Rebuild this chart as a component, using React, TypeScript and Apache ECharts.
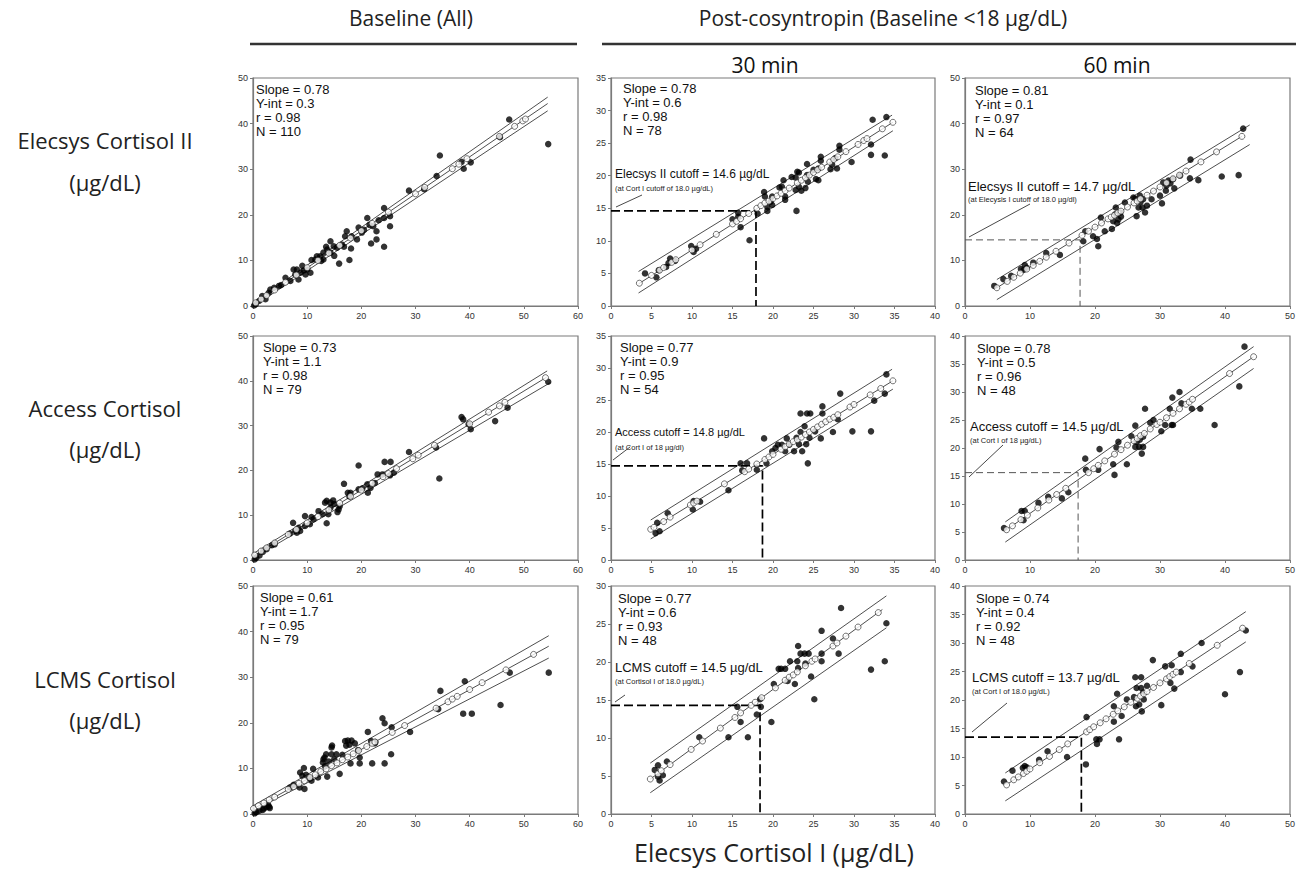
import React, { useEffect, useRef } from "react";
import * as echarts from "echarts";

// ---------- DATA ----------
const colTitles = ["Baseline (All)", "Post-cosyntropin (Baseline <18 µg/dL)"];
const subTitles = ["30 min", "60 min"];
const rowTitles = ["Elecsys Cortisol II", "Access Cortisol", "LCMS Cortisol"];
const rowUnit = "(µg/dL)";
const xTitle = "Elecsys Cortisol I (µg/dL)";

const xMax = [60, 40, 50, 60, 40, 50, 60, 40, 50];
const xStep = [10, 5, 10, 10, 5, 10, 10, 5, 10];
const yMax = [50, 35, 50, 50, 35, 40, 50, 30, 40];
const yStep = [10, 5, 10, 10, 5, 5, 10, 5, 5];

const slopes = ["0.78", "0.78", "0.81", "0.73", "0.77", "0.78", "0.61", "0.77", "0.74"];
const yInts = ["0.3", "0.6", "0.1", "1.1", "0.9", "0.5", "1.7", "0.6", "0.4"];
const rVals = ["0.98", "0.98", "0.97", "0.98", "0.95", "0.96", "0.95", "0.93", "0.92"];
const nVals = ["110", "78", "64", "79", "54", "48", "79", "48", "48"];

// cutoff [x, y] per panel (null = none)
const cutoffs: (number[] | null)[] = [null, [17.9, 14.6], [17.7, 14.5], null, [18.7, 14.7], [17.4, 15.6], null, [18.4, 14.3], [17.9, 13.5]];
const cutoffMain = ["", "Elecsys II cutoff = 14.6 µg/dL", "Elecsys II cutoff = 14.7 µg/dL", "", "Access cutoff = 14.8 µg/dL", "Access cutoff = 14.5 µg/dL", "", "LCMS cutoff = 14.5 µg/dL", "LCMS cutoff = 13.7 µg/dL"];
const cutoffSub = ["", "(at Cort I cutoff of 18.0 µg/dL)", "(at Elecysis I cutoff of 18.0 µg/dl)", "", "(at Cort I of 18 µg/dl)", "(at Cort I of 18 µg/dL)", "", "(at Cortisol I of 18.0 µg/dL)", "(at Cort I of 18.0 µg/dL)"];

// regression line and band end points per panel
const centerLines = [
  [[0.3, 0.5], [54.4, 44.4]], [[3.4, 3.4], [34.8, 28.2]], [[4.9, 4.0], [42.6, 37.2]],
  [[0.2, 1.0], [54.2, 40.8]], [[4.9, 4.8], [34.8, 28.0]], [[6.4, 5.4], [44.4, 36.3]],
  [[0, 1.1], [54.6, 36.8]], [[4.85, 4.6], [33.5, 26.9]], [[6.4, 5.15], [42.7, 32.6]],
];
const upperLines = [
  [[0.3, 0.9], [54.4, 45.8]], [[3.4, 5.3], [34.7, 29.3]], [[4.9, 5.8], [43.8, 39.7]],
  [[0, 1.4], [54.3, 42.2]], [[4.9, 6.25], [34.7, 29.8]], [[6.2, 6.8], [44.4, 38.1]],
  [[0, 1.8], [54.6, 39.1]], [[4.85, 6.7], [34.0, 28.7]], [[6.2, 7.2], [43.2, 35.5]],
];
const lowerLines = [
  [[0.3, 0.1], [54.4, 42.8]], [[3.4, 2.0], [34.8, 26.9]], [[4.9, 1.4], [43.8, 35.4]],
  [[0, 0.4], [54.9, 39.6]], [[4.9, 3.3], [34.8, 26.7]], [[6.2, 3.2], [44.4, 34.2]],
  [[0, 0.7], [54.6, 34.2]], [[4.85, 2.8], [34.0, 24.5]], [[6.2, 2.3], [43.2, 30.2]],
];

// observed points (filled)
const p1Filled = [[47.3,40.9],[54.5,35.5],[34.5,33.0],[33.9,28.5],[38.9,30.1],[40.2,31.5],[28.8,25.3],[24.2,19.3],[24.2,21.5],[25.3,17.5],[25.3,19.7],[24.2,13.0],[22.8,14.6],[21.8,13.7],[22.8,16.4],[22.2,17.5],[21.1,19.3],[19.5,17.2],[19.2,14.6],[18.1,12.6],[17.8,10.1],[17.3,16.4],[17.0,15.3],[15.9,9.3],[14.3,14.2],[14.3,11.7],[13.7,12.4],[13.0,11.7],[13.0,10.2],[12.4,10.9],[11.5,10.2],[10.8,10.1],[10.6,7.3],[10.0,8.0],[9.1,8.8],[8.8,7.3],[8.1,8.0],[8.4,5.8],[7.8,6.9],[7.5,8.0],[6.0,6.2],[4.8,4.4],[3.9,4.0],[2.9,2.9],[2.3,1.5],[1.7,2.2],[1.1,1.1],[0.5,0.4],[15.5,12.8],[16.4,13.5],[14.9,13.1],[18.2,15.3],[20.1,16.1],[11.8,10.9],[12.6,9.9],[9.7,6.9],[6.9,5.5],[38.5,31.6],[45.6,37.0],[31.6,25.6],[20.5,16.7],[21.5,17.8],[23.2,18.8],[13.5,13.0],[15.0,11.0],[16.8,13.0],[9.4,7.8],[3.2,3.6],[0.2,0.1],[5.2,4.6]];
const p2Filled = [[34.0,29.0],[32.3,28.6],[32.1,24.8],[32.1,23.2],[33.8,23.1],[29.7,22.1],[28.2,24.6],[28.2,24.0],[27.7,22.7],[27.3,21.7],[27.9,21.1],[27.1,21.0],[25.9,22.9],[25.9,22.3],[25.6,21.1],[25.0,20.9],[25.3,19.5],[25.6,19.3],[24.2,21.8],[24.2,20.1],[24.3,19.1],[24.0,18.1],[23.0,20.6],[23.2,20.5],[22.8,19.7],[23.2,18.3],[23.5,17.7],[22.8,17.8],[22.9,14.6],[22.3,19.8],[21.3,19.3],[21.1,18.3],[21.5,16.8],[21.5,16.3],[20.8,18.2],[19.9,16.8],[19.7,16.0],[19.9,15.5],[19.3,15.2],[19.3,14.6],[18.9,17.5],[19.0,16.8],[18.1,14.2],[15.7,14.3],[15.7,13.7],[16.0,12.1],[15.0,13.3],[17.1,10.1],[9.9,9.2],[10.2,8.3],[10.5,8.8],[7.9,6.9],[7.1,6.6],[6.8,6.0],[5.9,5.5],[5.6,4.4],[4.2,5.0],[7.3,7.3]];
const p3Filled = [[42.8,38.9],[42.1,28.7],[39.5,28.4],[35.9,27.6],[34.6,28.0],[34.7,32.1],[33.1,28.6],[32.0,27.8],[32.2,25.8],[31.3,27.5],[31.0,26.4],[30.9,25.3],[30.5,27.1],[30.0,24.2],[30.3,22.5],[28.7,23.4],[27.4,23.4],[27.3,21.6],[27.7,20.5],[26.7,21.6],[26.4,19.7],[26.9,24.2],[25.9,23.8],[24.6,22.7],[23.9,20.5],[23.6,19.0],[23.1,20.1],[23.2,21.6],[22.8,18.6],[22.6,16.9],[21.5,16.4],[20.9,19.4],[20.5,13.1],[20.3,14.7],[19.7,15.3],[18.5,16.4],[18.2,14.2],[14.6,11.2],[12.5,11.6],[10.5,9.5],[9.2,9.0],[9.0,7.9],[7.1,6.6],[5.9,5.9],[4.5,4.4],[27.0,22.8],[26.2,23.5],[28.0,22.0],[24.0,19.6],[23.4,18.2],[31.6,26.9],[8.6,8.1],[9.5,8.4]];
const p4Filled = [[54.5,39.8],[47.0,34.0],[44.7,31.0],[40.2,29.2],[39.8,30.3],[38.8,31.4],[38.5,31.9],[34.4,18.2],[33.8,25.1],[28.8,24.1],[25.4,21.9],[24.3,21.9],[25.3,18.9],[23.0,19.1],[23.9,19.1],[19.5,21.1],[21.1,16.9],[21.7,16.1],[21.2,15.0],[19.5,15.8],[18.0,15.0],[17.5,15.0],[16.8,17.0],[15.8,11.3],[15.6,10.7],[14.3,12.8],[13.6,13.2],[13.3,12.8],[13.6,8.2],[13.9,10.2],[14.3,11.7],[12.1,10.9],[11.2,9.1],[10.5,8.0],[9.6,9.8],[9.6,7.6],[8.7,6.5],[8.1,6.1],[7.4,8.3],[7.8,6.5],[6.8,5.9],[4.0,3.5],[2.5,2.4],[0.6,0.5],[0.3,0.1],[15.0,12.5],[16.0,12.0],[12.8,10.2],[10.8,9.6],[8.4,7.2],[3.5,3.3],[1.8,1.8],[1.2,1.0],[20.2,16.0],[22.5,17.2],[26.0,19.5],[14.8,13.3],[17.8,14.2]];
const p5Filled = [[34.0,29.0],[33.8,26.0],[32.5,24.9],[32.1,20.1],[29.8,20.1],[28.3,26.0],[28.0,22.0],[27.4,20.0],[26.1,24.0],[26.1,22.9],[25.9,19.0],[25.2,20.1],[24.6,22.9],[24.2,22.9],[23.4,22.9],[23.6,17.0],[24.1,18.1],[24.5,19.1],[24.3,15.1],[23.9,20.9],[23.4,20.0],[22.9,19.1],[23.2,18.1],[22.6,17.0],[21.7,19.0],[21.5,17.0],[21.1,18.0],[20.6,18.0],[19.9,17.0],[19.2,15.1],[18.9,19.0],[18.0,14.1],[16.8,15.1],[16.0,15.1],[14.5,10.9],[11.0,9.1],[10.1,7.9],[10.2,9.2],[7.0,7.3],[5.7,5.8],[5.5,4.2],[6.0,4.5],[16.2,14.0],[22.0,18.0],[20.3,17.5]];
const p6Filled = [[43.0,38.1],[42.2,31.0],[38.4,24.1],[36.2,27.0],[34.9,27.0],[33.3,28.0],[33.0,30.0],[31.9,29.0],[31.8,24.1],[31.5,27.0],[30.8,24.1],[30.2,23.0],[29.0,25.0],[27.7,27.0],[27.4,22.0],[27.2,19.0],[27.4,20.2],[26.8,20.2],[26.2,20.2],[26.4,21.1],[26.2,24.0],[25.6,22.1],[24.9,17.1],[23.6,21.1],[23.3,20.1],[22.8,17.1],[23.0,15.2],[20.7,19.8],[20.5,16.1],[18.5,18.1],[18.6,16.1],[15.9,12.1],[14.9,11.0],[12.8,11.3],[11.3,10.2],[9.2,8.75],[9.0,7.1],[8.7,8.75],[6.0,5.7],[32.0,24.1],[26.9,21.5],[28.5,24.5]];
const p7Filled = [[54.6,31.0],[47.4,31.0],[45.7,23.9],[40.4,22.0],[38.8,22.0],[39.1,29.1],[34.6,27.0],[34.2,23.0],[29.0,18.0],[25.6,19.0],[25.5,13.1],[24.3,19.9],[23.9,21.0],[24.3,11.1],[22.0,11.1],[21.2,18.0],[22.5,15.5],[19.7,12.4],[19.7,11.1],[18.8,15.5],[18.2,16.1],[17.5,16.1],[17.2,15.0],[18.0,11.1],[16.0,8.8],[15.4,13.1],[14.5,14.6],[14.6,15.0],[14.5,13.1],[13.5,13.1],[13.2,12.4],[13.7,8.2],[12.9,11.3],[12.0,8.0],[11.1,9.9],[10.8,7.3],[9.4,10.1],[9.1,8.4],[8.7,9.1],[8.6,5.8],[9.5,5.5],[7.5,6.4],[6.8,5.8],[3.0,1.6],[2.5,1.5],[1.8,0.9],[1.2,0.7],[0.6,0.4],[0.3,0.15],[13.0,12.0],[15.0,12.0],[16.5,13.0],[17.8,15.2],[14.0,11.5],[10.5,7.8],[9.8,8.6],[2.8,2.0],[3.1,1.3],[2.0,1.2],[22.6,15.8],[21.8,16.0],[19.4,14.0],[17.0,16.0],[13.3,10.5]];
const p8Filled = [[34.0,25.1],[33.8,20.1],[32.1,19.0],[28.4,27.1],[27.4,23.1],[28.1,21.1],[26.0,24.1],[26.0,21.1],[26.0,20.1],[25.1,15.1],[24.7,18.1],[24.4,21.1],[23.9,21.1],[23.4,21.1],[23.1,22.1],[23.0,20.1],[23.1,19.2],[22.7,17.1],[22.1,20.1],[21.5,19.1],[21.0,19.1],[20.7,19.1],[20.1,17.1],[19.8,12.1],[18.4,15.1],[18.5,14.1],[18.0,13.1],[16.9,10.1],[15.6,14.1],[16.0,12.1],[14.5,10.1],[10.9,10.1],[6.9,6.9],[5.8,4.9],[6.0,4.4],[6.4,5.1],[5.4,5.8],[5.8,6.4],[21.8,17.5],[24.0,19.8]];
const p9Filled = [[43.2,32.2],[42.3,24.9],[40.0,21.0],[36.4,30.0],[35.0,25.9],[33.2,28.1],[33.2,24.9],[32.2,22.0],[31.8,26.1],[31.6,23.0],[30.8,25.9],[30.2,19.1],[28.9,27.0],[27.4,21.3],[27.5,20.1],[27.2,18.0],[27.1,24.0],[27.1,22.1],[26.8,19.2],[26.2,24.0],[26.4,22.1],[26.3,18.9],[24.9,20.1],[24.1,17.2],[23.7,13.1],[23.4,21.1],[22.9,16.2],[22.9,18.9],[20.7,13.1],[20.3,12.3],[20.2,13.1],[18.6,8.7],[18.7,17.0],[15.7,10.0],[12.7,11.0],[11.4,9.5],[9.5,8.2],[9.2,8.4],[8.9,8.1],[7.3,7.6],[6.0,5.7],[26.0,20.5],[28.0,22.5]];

// fitted values (open circles)
const p1Open = [[0.5,0.7],[1.5,1.5],[2.5,2.3],[4,3.5],[6,5.2],[8,6.8],[10,8.4],[12,10.0],[14,11.6],[16,13.3],[18,14.9],[20,16.5],[22,18.1],[25,20.6],[30,24.6],[31.7,26.0],[36.8,30.1],[38,31.1],[39.5,32.3],[45.5,37.2],[48.3,39.4],[49.8,40.6],[50.3,41.0]];
const p2Open = [[3.5,3.5],[5,4.7],[6,5.5],[6.5,5.9],[7.5,6.7],[8,7.1],[10,8.6],[11,9.4],[13,11.0],[15,12.6],[15.5,13.0],[16,13.4],[17,14.2],[18,15.0],[18.5,15.4],[19,15.8],[19.5,16.1],[20,16.5],[20.5,16.9],[21,17.3],[21.5,17.7],[22,18.1],[23,18.9],[23.5,19.3],[24,19.7],[24.5,20.1],[25,20.5],[25.5,20.9],[26,21.3],[27,22.1],[27.5,22.5],[28,22.9],[29,23.7],[30.5,24.8],[31.2,25.4],[31.6,25.7],[33.5,27.2],[34.8,28.2]];
const p3Open = [[4.9,4.0],[6.5,5.4],[7.5,6.3],[8.5,7.2],[9.5,8.1],[10.5,8.9],[11.5,9.8],[12.5,10.7],[14,12.0],[16,13.8],[18,15.5],[19,16.4],[20,17.3],[21,18.2],[22,19.1],[22.5,19.5],[23,19.9],[23.5,20.4],[24,20.8],[25,21.7],[26,22.6],[26.5,23.0],[27,23.5],[28,24.3],[29,25.2],[30,26.1],[31,27.0],[32,27.9],[33,28.7],[34,29.6],[36.3,31.6],[38.7,33.8],[42.6,37.2]];
const p4Open = [[0.3,1.1],[1.5,2.0],[2.5,2.7],[4,3.8],[6.5,5.7],[8,6.8],[10,8.3],[12,9.7],[14,11.2],[16,12.7],[18,14.2],[20,15.6],[22,17.1],[24,18.6],[25,19.3],[26.5,20.4],[29.5,22.6],[30.5,23.4],[33.5,25.6],[40,30.4],[43.5,33.0],[45.5,34.4],[46.5,35.2],[54,40.7]];
const p5Open = [[4.9,4.8],[5.3,5.1],[6.5,6.0],[7.3,6.7],[9.8,8.6],[10.2,8.9],[10.6,9.2],[14,11.9],[16.5,13.8],[17,14.2],[18,15.0],[19,15.7],[19.5,16.1],[20,16.5],[21,17.3],[21.5,17.7],[22,18.1],[22.5,18.5],[23,18.8],[23.5,19.2],[24,19.6],[24.5,20.0],[25,20.4],[25.5,20.8],[26,21.2],[26.5,21.6],[27,22.0],[27.5,22.3],[28,22.7],[29.5,23.9],[30,24.3],[32,25.8],[33.3,26.8],[34.8,28.0]];
const p6Open = [[6.4,5.4],[7.3,6.1],[8.6,7.2],[9.6,8.0],[11.2,9.3],[12.9,10.7],[14.1,11.7],[15.5,12.8],[19,15.6],[19.8,16.3],[20.5,16.9],[21.5,17.7],[23,18.9],[24,19.7],[25,20.5],[26,21.3],[26.5,21.7],[27,22.2],[27.6,22.6],[28.5,23.4],[29.5,24.2],[30,24.6],[31,25.4],[32,26.2],[33,27.0],[34,27.8],[34.5,28.2],[35,28.7],[40.7,33.3],[44.4,36.3]];
const p7Open = [[0.1,1.2],[1,1.8],[2,2.4],[3,3.1],[4,3.7],[6.5,5.4],[7.5,6.0],[8.5,6.7],[9.5,7.3],[10.5,8.0],[11.5,8.6],[12.5,9.3],[13.5,9.9],[14.5,10.6],[15.5,11.2],[16.5,11.9],[17.5,12.5],[18.5,13.2],[19.5,13.9],[21,14.8],[22,15.5],[22.5,15.8],[25.7,17.9],[28,19.4],[33.8,23.2],[36,24.6],[36.8,25.2],[37.7,25.8],[40,27.3],[42.3,28.8],[46.7,31.6],[51.8,35.0]];
const p8Open = [[4.85,4.6],[5.8,5.3],[6.2,5.7],[7.3,6.5],[9.9,8.5],[11.3,9.6],[13.5,11.3],[15.3,12.7],[16,13.3],[17.3,14.3],[17.8,14.7],[18.6,15.3],[20.3,16.6],[21.5,17.6],[22,18.0],[22.5,18.3],[23,18.7],[24,19.5],[24.8,20.1],[25.2,20.4],[27.4,22.1],[27.9,22.5],[29,23.4],[30.5,24.6],[33,26.5]];
const p9Open = [[6.4,5.1],[7.5,6.0],[8.2,6.5],[9,7.1],[9.5,7.5],[10,7.9],[11.5,9.0],[13,10.1],[14.5,11.3],[15.8,12.3],[18.7,14.4],[19.2,14.8],[19.8,15.3],[20.8,16.0],[21.7,16.7],[22.8,17.5],[23.5,18.1],[24.5,18.8],[25.5,19.6],[26.5,20.3],[27,20.7],[27.5,21.1],[28,21.5],[29,22.2],[30,23.0],[31,23.7],[31.5,24.1],[32,24.5],[32.5,24.9],[34.5,26.4],[38.8,29.6],[42.7,32.6]];

const filledSets = [p1Filled, p2Filled, p3Filled, p4Filled, p5Filled, p6Filled, p7Filled, p8Filled, p9Filled];
const openSets = [p1Open, p2Open, p3Open, p4Open, p5Open, p6Open, p7Open, p8Open, p9Open];

// ---------- LAYOUT ----------
const COLS = [[253, 325], [611, 324], [965, 325]];
const ROWS = [[78, 228], [336, 224], [586, 228]];
const statsOff = [[3, 11], [12, 10], [10, 12], [10, 11], [9, 11], [12, 12], [7, 11], [7, 12], [11, 12]];
const cutMainPos = [null, [615, 174, 12], [968, 186, 13], null, [615, 432, 11], [970, 426, 13], null, [615, 667, 13], [972, 677, 13]];
const cutSubPos = [null, [615, 188], [968, 199], null, [615, 447], [970, 440], null, [615, 681], [972, 691]];
const pointers = [null, [616, 207, 642, 195], [969, 237, 1030, 204], null, [613, 460, 630, 447], [969, 477, 1003, 445], null, [615, 702, 625, 695], [972, 732, 1007, 703]];
const heavyCut = [false, true, false, false, true, false, false, true, true];

const TFONT = '"Open Sans", "Noto Sans", sans-serif';
const AFONT = '"Liberation Sans", Arial, sans-serif';

function txt(x: number, y: number, text: string, size: number, family: string, align = "left", color = "#111") {
  return {
    type: "text", x, y, silent: true, z: 100,
    style: { text, fontSize: size, fontFamily: family, fill: color, textAlign: align, align, textVerticalAlign: "middle", verticalAlign: "middle" },
  };
}
function seg(x1: number, y1: number, x2: number, y2: number, color: string, width: number) {
  return { type: "line", silent: true, z: 100, shape: { x1, y1, x2, y2 }, style: { stroke: color, lineWidth: width } };
}

export default function App() {
  const ref = useRef<HTMLDivElement>(null);
  useEffect(() => {
    if (!ref.current) return;
    const chart = echarts.init(ref.current, undefined, { renderer: "svg" });
    const grids: any[] = [];
    const xAxes: any[] = [];
    const yAxes: any[] = [];
    const series: any[] = [];
    const graphics: any[] = [];
    const axisColor = "#7a7a7a";
    for (let i = 0; i < 9; i++) {
      const r = Math.floor(i / 3);
      const c = i % 3;
      const [left, width] = COLS[c];
      const [top, height] = ROWS[r];
      grids.push({ left, top, width, height, show: true, borderColor: axisColor, borderWidth: 1.2, backgroundColor: "transparent", containLabel: false });
      const common = {
        gridIndex: i, type: "value", min: 0,
        axisLine: { show: true, onZero: false, lineStyle: { color: axisColor, width: 1.2 } },
        axisTick: { show: true, inside: false, length: 3, lineStyle: { color: axisColor } },
        splitLine: { show: false },
        axisLabel: { fontSize: 9, color: "#333", fontFamily: AFONT, margin: 5 },
      };
      xAxes.push({ ...common, max: xMax[i], interval: xStep[i] });
      yAxes.push({ ...common, max: yMax[i], interval: yStep[i] });
      const lineBase = { type: "line", xAxisIndex: i, yAxisIndex: i, symbol: "none", silent: true, z: 2 };
      series.push({ ...lineBase, data: upperLines[i], lineStyle: { color: "#3a3a3a", width: 0.9 } });
      series.push({ ...lineBase, data: lowerLines[i], lineStyle: { color: "#3a3a3a", width: 0.9 } });
      series.push({ ...lineBase, data: centerLines[i], lineStyle: { color: "#3a3a3a", width: 0.9 } });
      const co = cutoffs[i];
      if (co) {
        series.push({
          ...lineBase, z: 2,
          data: [[0, co[1]], [co[0], co[1]], [co[0], 0]],
          lineStyle: heavyCut[i] ? { color: "#000", width: 1.7, type: [9, 4] } : { color: "#555", width: 1, type: [7, 4] },
        });
      }
      series.push({ type: "scatter", xAxisIndex: i, yAxisIndex: i, data: filledSets[i], symbolSize: 6.5, itemStyle: { color: "#000" }, z: 3, silent: true });
      series.push({ type: "scatter", xAxisIndex: i, yAxisIndex: i, data: openSets[i], symbolSize: 6, itemStyle: { color: "#fff", borderColor: "#222", borderWidth: 0.8 }, z: 4, silent: true });

      // stats
      const sx = left + statsOff[i][0];
      const sy = top + statsOff[i][1];
      const lines = ["Slope = " + slopes[i], "Y-int = " + yInts[i], "r = " + rVals[i], "N = " + nVals[i]];
      lines.forEach((t, k) => graphics.push(txt(sx, sy + k * 14, t, 13, AFONT, "left", "#111")));
      const mp = cutMainPos[i];
      const sp = cutSubPos[i];
      const pp = pointers[i];
      if (mp && sp && pp) {
        graphics.push(txt(mp[0], mp[1], cutoffMain[i], mp[2], AFONT, "left", "#111"));
        graphics.push(txt(sp[0], sp[1], cutoffSub[i], 7.5, AFONT, "left", "#222"));
        graphics.push(seg(pp[0], pp[1], pp[2], pp[3], "#333", 0.9));
      }
    }
    // headers
    graphics.push(txt(411, 18, colTitles[0], 21, TFONT, "center", "#222"));
    graphics.push(txt(883, 18, colTitles[1], 21, TFONT, "center", "#222"));
    graphics.push(seg(250, 44, 577, 44, "#333", 2.5));
    graphics.push(seg(602, 44, 1296, 44, "#333", 2.5));
    graphics.push(txt(765, 65, subTitles[0], 21, TFONT, "center", "#111"));
    graphics.push(txt(1117, 65, subTitles[1], 21, TFONT, "center", "#111"));
    const rowY = [[140, 182], [408, 449], [679, 720]];
    rowTitles.forEach((t, k) => {
      graphics.push(txt(105, rowY[k][0], t, 22, TFONT, "center", "#222"));
      graphics.push(txt(105, rowY[k][1], rowUnit, 22, TFONT, "center", "#222"));
    });
    graphics.push(txt(774, 852, xTitle, 25, TFONT, "center", "#222"));

    chart.setOption({
      animation: false,
      backgroundColor: "#fff",
      grid: grids,
      xAxis: xAxes,
      yAxis: yAxes,
      series,
      graphic: graphics,
    });
    return () => chart.dispose();
  }, []);
  return <div ref={ref} style={{ position: "fixed", left: 0, top: 0, width: 1299, height: 869 }} />;
}
